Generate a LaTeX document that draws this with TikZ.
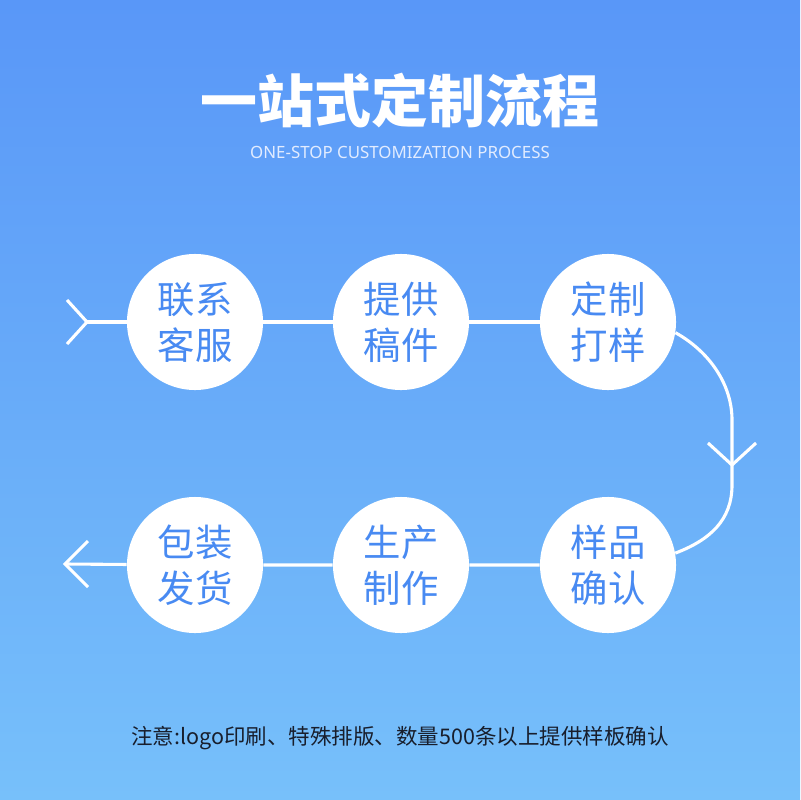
\documentclass[tikz,border=0pt]{standalone}
\usepackage{fontspec}
\setmainfont{Noto Sans}
\newfontfamily\cjk{Noto Sans CJK SC}
\usetikzlibrary{arrows.meta,positioning,calc}

\definecolor{bgtop}{RGB}{89,151,248}
\definecolor{bgbottom}{RGB}{119,192,250}
\definecolor{stepblue}{RGB}{72,138,242}
\definecolor{subtitlecol}{RGB}{226,236,255}
\definecolor{notecol}{RGB}{24,30,44}

\tikzset{
  stepnode/.style={circle, fill=white, minimum size=3.4cm, inner sep=0pt,
    align=center, text=stepblue, font=\cjk\fontsize{26.6}{32.7}\selectfont},
  flow/.style={white, line width=2.2pt},
}

\begin{document}
\begin{tikzpicture}[x=0.025cm, y=-0.025cm]
    % background
    \shade[top color=bgtop, bottom color=bgbottom] (0,0) rectangle (800,800);
    \useasboundingbox (0,0) rectangle (800,800);
    % title
    \node[text=white, font=\cjk\bfseries\fontsize{40.5}{44}\selectfont] (title) at (400,101) {一站式定制流程};
    \node[text=subtitlecol, font=\fontsize{12}{14}\selectfont] (subtitle) at (400,152) {ONE-STOP CUSTOMIZATION PROCESS};
    % steps, top row left to right
    \node[stepnode] (s1) at (195,322) {联系\\客服};
    \node[stepnode] (s2) at (401,322) {提供\\稿件};
    \node[stepnode] (s3) at (608,322) {定制\\打样};
    % steps, bottom row right to left
    \node[stepnode] (s4) at (608,565) {样品\\确认};
    \node[stepnode] (s5) at (401,565) {生产\\制作};
    \node[stepnode] (s6) at (195,565) {包装\\发货};
    % connectors
    \coordinate (start) at (87,322);
    \coordinate (turn) at (732,465);
    \coordinate (finish) at (65,564);
    \draw[flow] (start) -- (s1) -- (s2) -- (s3);
    \draw[flow] (s3.-9) .. controls (710,352) and (732,385) .. (732,420)
      -- (turn) -- (732,485) .. controls (732,520) and (710,540) .. (s4.10);
    \draw[flow] (s4) -- (s5) -- (s6) -- (finish);
    \draw[flow, line join=miter] ($(start)+(-20,-22)$) -- (start) -- ($(start)+(-20,22)$);
    \draw[flow, line join=miter] ($(turn)+(-24,-22)$) -- (turn) -- ($(turn)+(24,-22)$);
    \draw[flow, line join=miter] ($(finish)+(23,-23)$) -- (finish) -- ($(finish)+(23,23)$);
    % note
    \node[text=notecol, font=\cjk\fontsize{15.3}{18}\selectfont] (note) at (400,738) {注意:logo印刷、特殊排版、数量500条以上提供样板确认};
\end{tikzpicture}
\end{document}
